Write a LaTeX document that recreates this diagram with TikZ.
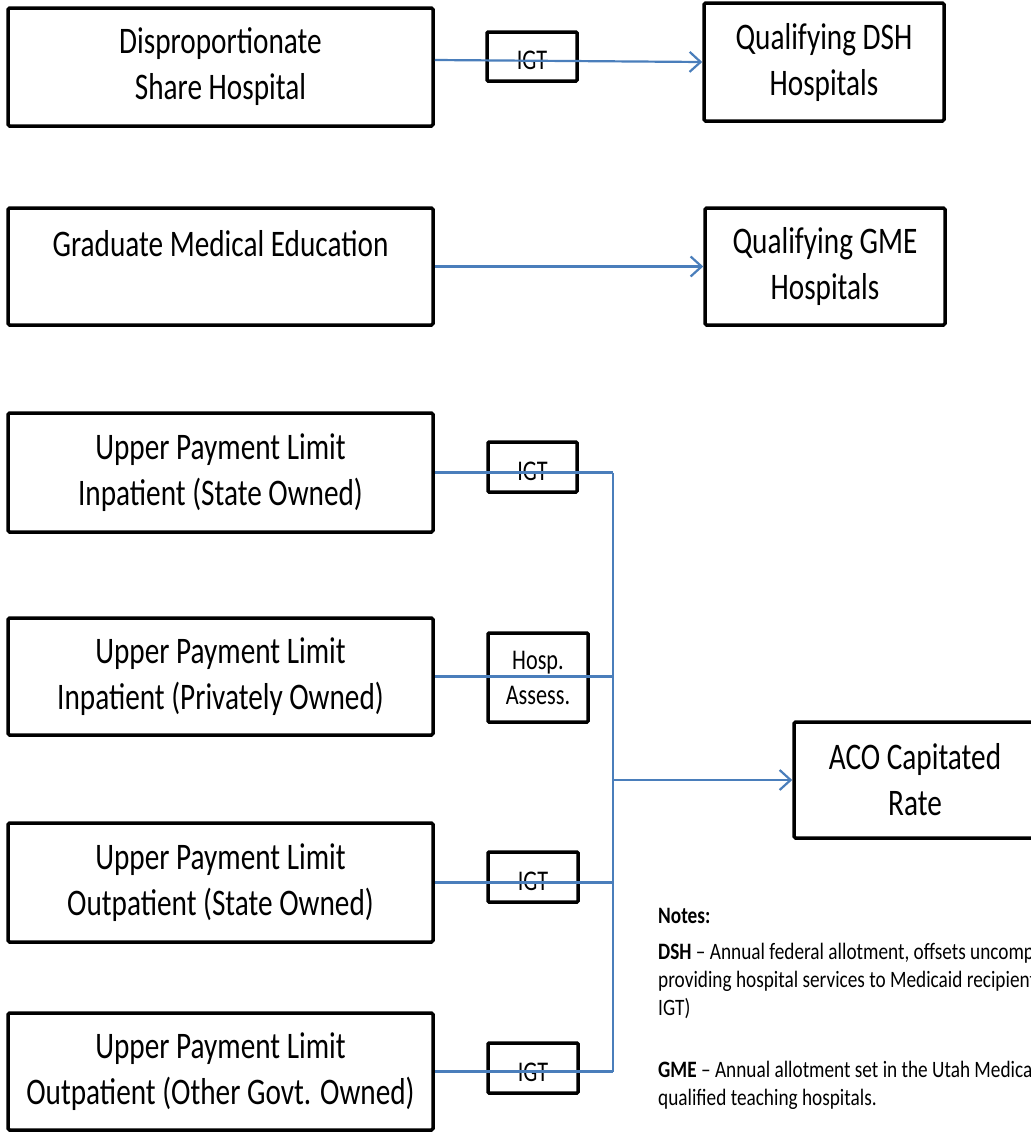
\documentclass[tikz,border=0pt]{standalone}
\usepackage{fontspec}
\setmainfont{Carlito}
\newfontfamily\boxfont[FakeStretch=0.78]{Carlito}
\newfontfamily\notefont[FakeStretch=0.82]{Carlito}
\usetikzlibrary{arrows.meta}
\definecolor{conn}{HTML}{4A7EBB}
\begin{document}
\begin{tikzpicture}[x=1pt,y=-1pt,
  box/.style={draw, line width=3.5pt, rounded corners=1.5pt, fill=white, align=center, inner sep=0pt,
    font=\boxfont\fontsize{37.5}{46}\selectfont},
  tag/.style={draw, line width=3.5pt, rounded corners=1pt, fill=white, align=center, inner sep=0pt,
    font=\boxfont\fontsize{28.5}{35}\selectfont},
  low/.style={text height=26pt, text depth=0pt},
  link/.style={draw=conn, line width=2.2pt},
  arr/.style={link, -{Straight Barb[length=11pt,width=20pt]}},
  notestyle/.style={anchor=base west, align=left, inner sep=0pt,
    font=\notefont\fontsize{23.5}{28}\selectfont}]
\useasboundingbox (0,0) rectangle (1031,1133);
\clip (0,0) rectangle (1031,1133);

% left boxes
\node[box, minimum width=425pt, minimum height=118pt] (dsh) at (220.5,67) {Disproportionate\\Share Hospital};
\node[box, minimum width=425pt, minimum height=117pt] (gme) at (220.5,266.5) {Graduate Medical Education\\\mbox{}};
\node[box, minimum width=425pt, minimum height=119pt] (upl1) at (220.5,472.5) {Upper Payment Limit\\Inpatient (State Owned)};
\node[box, minimum width=425pt, minimum height=117pt] (upl2) at (220.5,676.5) {Upper Payment Limit\\Inpatient (Privately Owned)};
\node[box, minimum width=425pt, minimum height=119pt] (upl3) at (220.5,882.5) {Upper Payment Limit\\Outpatient (State Owned)};
\node[box, minimum width=425pt, minimum height=117pt] (upl4) at (220.5,1071.5) {Upper Payment Limit\\Outpatient (Other Govt. Owned)};

% right boxes
\node[box, minimum width=240pt, minimum height=118pt] (qdsh) at (824,62) {Qualifying DSH\\Hospitals};
\node[box, minimum width=240pt, minimum height=117pt] (qgme) at (825,266.5) {Qualifying GME\\Hospitals};
\node[box, minimum width=242pt, minimum height=116pt] (aco) at (915,780) {ACO Capitated\\Rate};

% tags
\node[tag, low, minimum width=90pt, minimum height=49pt] (igt1) at (532,56.5) {IGT};
\node[tag, low, minimum width=89pt, minimum height=50pt] (igt2) at (532.5,467) {IGT};
\node[tag, minimum width=100pt, minimum height=89pt] (hosp) at (538,677.5) {Hosp.\\Assess.};
\node[tag, low, minimum width=90pt, minimum height=50pt] (igt3) at (533,877) {IGT};
\node[tag, low, minimum width=90pt, minimum height=50pt] (igt4) at (533,1068) {IGT};

% connectors
\coordinate (spine) at (613,780);
\draw[arr] ([yshift=7pt]dsh.east) -- (qdsh.west);
\draw[arr] (gme.east) -- (qgme.west);
\draw[link] (upl1.east) -- (upl1.east -| spine);
\draw[link] (upl2.east) -- (upl2.east -| spine);
\draw[link] (upl3.east) -- (upl3.east -| spine);
\draw[link] (upl4.east) -- (upl4.east -| spine);
\draw[link] (upl1.east -| spine) -- (upl4.east -| spine);
\draw[arr] (spine) -- (aco.west);

% notes (base anchor = baseline of the last line)
\node[notestyle] (notes) at (658,1105.5) {\textbf{Notes:}\\[8.5pt]
\textbf{DSH} – Annual federal allotment, offsets uncompensated\\
providing hospital services to Medicaid recipients\\
IGT)\\[34pt]
\textbf{GME} – Annual allotment set in the Utah Medicaid\\
qualified teaching hospitals.};
\end{tikzpicture}
\end{document}
